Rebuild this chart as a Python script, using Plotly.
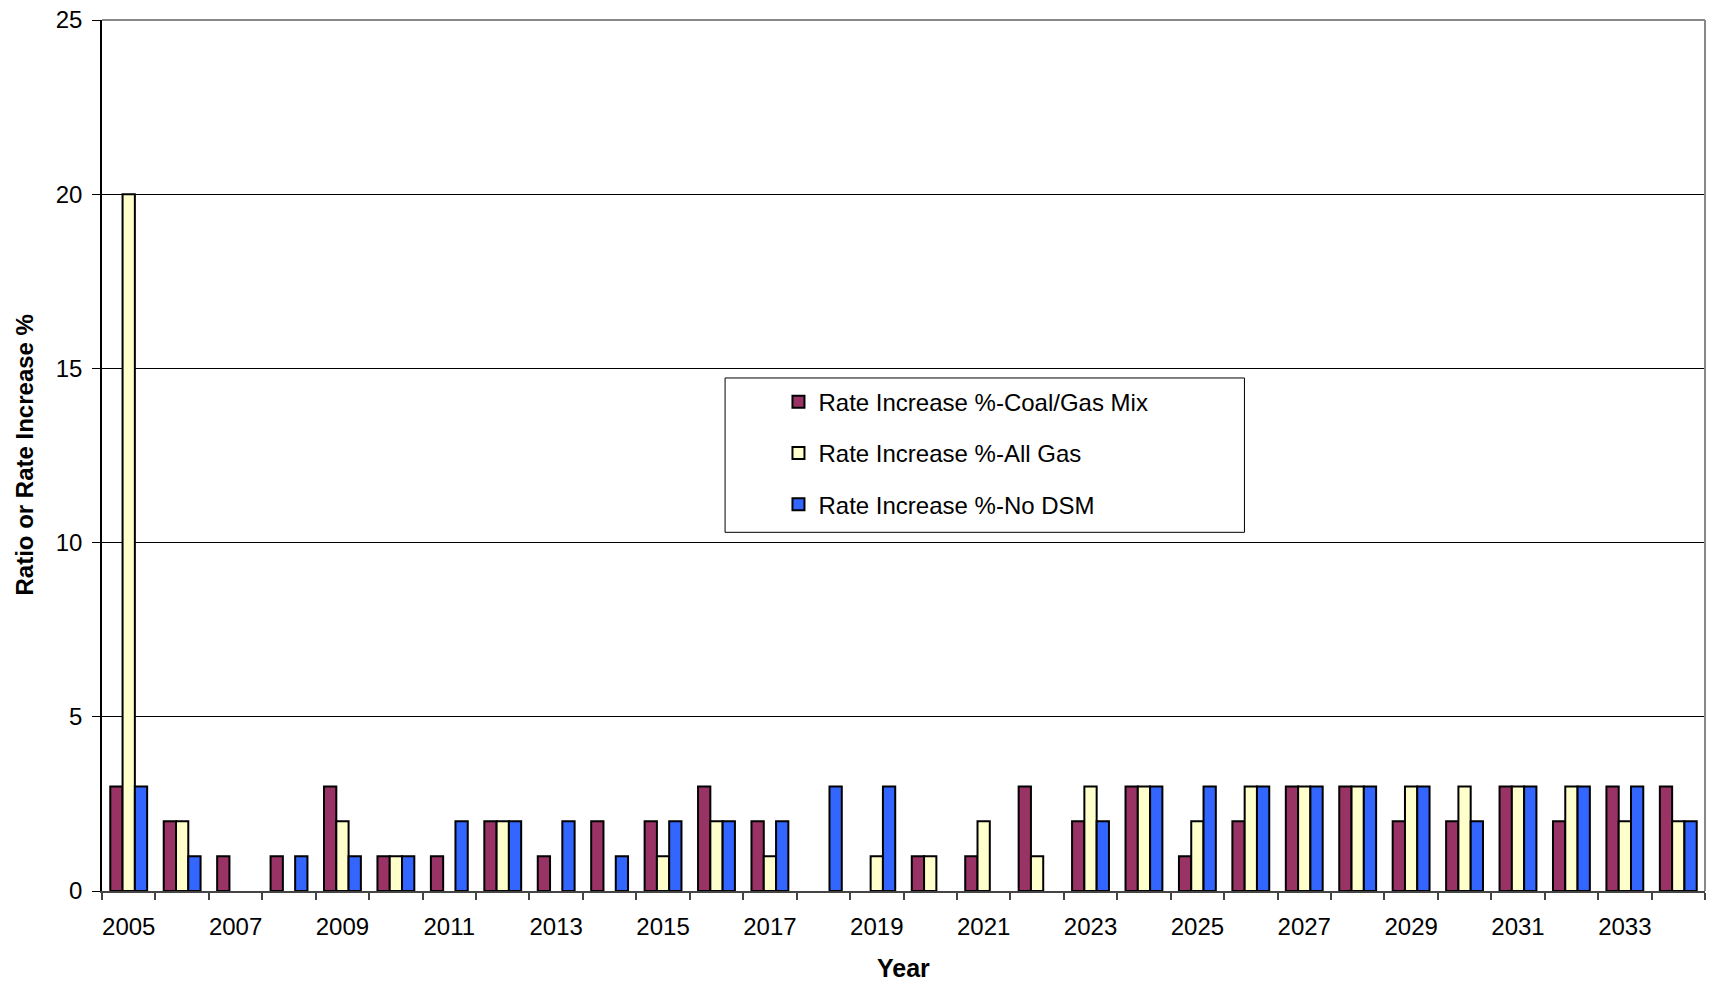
import plotly.graph_objects as go

# Annual rate increases (%) by scenario
years = list(range(2005, 2035))
coal_gas_mix = [3, 2, 1, 1, 3, 1, 1, 2, 1, 2, 2, 3, 2, 0, 0, 1, 1, 3, 2, 3, 1, 2, 3, 3, 2, 2, 3, 2, 3, 3]
all_gas      = [20, 2, 0, 0, 2, 1, 0, 2, 0, 0, 1, 2, 1, 0, 1, 1, 2, 1, 3, 3, 2, 3, 3, 3, 3, 3, 3, 3, 2, 2]
no_dsm       = [3, 1, 0, 1, 1, 1, 2, 2, 2, 1, 2, 2, 2, 3, 3, 0, 0, 0, 2, 3, 3, 3, 3, 3, 3, 2, 3, 3, 3, 2]

series_names = ["Rate Increase %-Coal/Gas Mix", "Rate Increase %-All Gas", "Rate Increase %-No DSM"]
series_colors = ["#993366", "#FFFFCC", "#3366FF"]
x_label_years = years[::2]
y_ticks = [0, 5, 10, 15, 20, 25]

FONT = "Liberation Sans, Arial, sans-serif"

fig = go.Figure()
for i, (name, vals, col) in enumerate(zip(series_names, [coal_gas_mix, all_gas, no_dsm], series_colors)):
    # zero-height bars get no outline so they stay invisible
    outline = [2 if v > 0 else 0 for v in vals]
    fig.add_trace(go.Bar(
        x=years, y=vals, name=name, legendgroup=f"g{i}",
        marker=dict(color=col, line=dict(color="black", width=outline)),
    ))

# category boundaries for the x tick marks
boundaries = [y - 0.5 for y in years] + [years[-1] + 0.5]

fig.update_layout(
    width=1711, height=983,
    margin=dict(l=102, r=6, t=17, b=92),
    paper_bgcolor="white", plot_bgcolor="white",
    barmode="group", bargap=0.31, bargroupgap=0,
    font=dict(family=FONT, size=24, color="black"),
    showlegend=True,
    legend=dict(
        x=0.422, y=0.587, xanchor="left", yanchor="top",
        bgcolor="rgba(0,0,0,0)", borderwidth=0,
        tracegroupgap=17, font=dict(size=24, family=FONT),
    ),
    xaxis=dict(
        range=[years[0] - 0.5, years[-1] + 0.5],
        tickmode="array", tickvals=x_label_years, ticktext=[str(v) for v in x_label_years],
        ticks="", ticklabelstandoff=13,
        showgrid=False, zeroline=False,
        showline=True, linecolor="#444444", linewidth=1.5,
        minor=dict(tickmode="array", tickvals=boundaries, ticks="outside",
                   ticklen=7, tickcolor="#444444", tickwidth=1.5, showgrid=False),
        tickfont=dict(size=24),
    ),
    yaxis=dict(
        range=[0, 25], tickmode="array", tickvals=y_ticks,
        ticks="outside", ticklen=8, tickcolor="black", tickwidth=1,
        ticklabelstandoff=5,
        showgrid=True, gridcolor="black", gridwidth=1,
        zeroline=False, showline=True, linecolor="black", linewidth=1.5,
        tickfont=dict(size=24),
    ),
    shapes=[
        # legend frame
        dict(type="rect", xref="paper", yref="paper", x0=0.3887, x1=0.7127, y0=0.4118, y1=0.5890,
             line=dict(color="black", width=1), fillcolor="white", layer="above"),
        # top and right plot border
        dict(type="line", xref="paper", yref="paper", x0=0, x1=1, y0=1, y1=1,
             line=dict(color="#888888", width=2)),
        dict(type="line", xref="paper", yref="paper", x0=1, x1=1, y0=0, y1=1,
             line=dict(color="#888888", width=2)),
    ],
    annotations=[
        dict(text="<b>Year</b>", xref="paper", yref="paper", x=0.5, y=0, yshift=-77,
             showarrow=False, font=dict(size=25, family=FONT), xanchor="center", yanchor="middle"),
        dict(text="<b>Ratio or Rate Increase %</b>", xref="paper", yref="paper", x=0, y=0.5,
             xshift=-78, textangle=-90, showarrow=False, font=dict(size=24, family=FONT),
             xanchor="center", yanchor="middle"),
    ],
)

fig.write_html("out.html")
